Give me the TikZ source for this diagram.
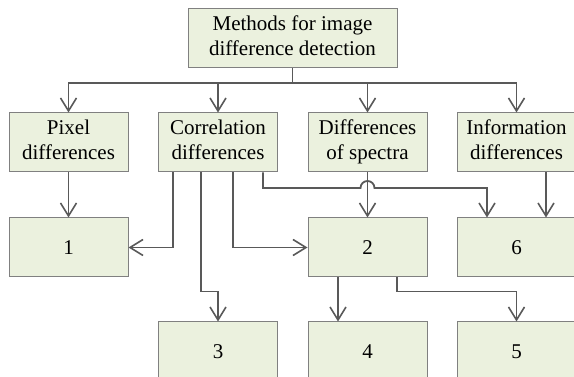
\documentclass[tikz,border=0pt]{standalone}
\usepackage{fontspec}
\setmainfont{Liberation Serif}
\usetikzlibrary{arrows.meta,calc}
\definecolor{boxfill}{HTML}{EBF1DE}
\definecolor{boxline}{HTML}{808080}
\definecolor{conn}{HTML}{595959}
\begin{document}
\begin{tikzpicture}[x=1pt,y=1pt,
  box/.style={draw=boxline, line width=1pt, fill=boxfill, minimum width=119pt, minimum height=59pt, inner sep=0pt, align=center, font=\fontsize{21}{25}\selectfont},
  arr/.style={draw=conn, line width=1.8pt, -{Straight Barb[length=13pt,width=16pt,line width=1.6pt]}},
  ln/.style={draw=conn, line width=1.8pt}]
\useasboundingbox (0,0) rectangle (574,-377);
\clip (0,0) rectangle (574,-377);
\node[box, minimum width=209pt] (top) at (292.5,-38.5) {\strut Methods for image\\difference detection\strut};
\node[box] (pix) at (68.5,-142.5) {\strut Pixel\\differences\strut};
\node[box] (corr) at (218,-142.5) {\strut Correlation\\differences\strut};
\node[box] (spec) at (367.5,-142.5) {\strut Differences\\of spectra\strut};
\node[box] (info) at (516.5,-142.5) {\strut Information\\differences\strut};
\node[box] (n1) at (68.5,-247.5) {1};
\node[box] (n2) at (367.5,-247.5) {2};
\node[box] (n6) at (516.5,-247.5) {6};
\node[box] (n3) at (218,-351.5) {3};
\node[box] (n4) at (367.5,-351.5) {4};
\node[box] (n5) at (516.5,-351.5) {5};
\coordinate (bus) at (292.5,-83);
\draw[ln] (top.south) -- (bus);
\draw[arr] (bus) -| (pix.north);
\draw[arr] (bus) -| (corr.north);
\draw[arr] (bus) -| (spec.north);
\draw[arr] (bus) -| (info.north);
\draw[arr] (pix.south) -- (n1.north);
\draw[arr] ([xshift=-45pt]corr.south) |- (n1.east);
\draw[arr] ([xshift=-17pt]corr.south) |- ([yshift=30pt]n3.north) -- (n3.north);
\draw[arr] ([xshift=15pt]corr.south) |- (n2.west);
\draw[arr] ([xshift=45pt]corr.south) |- (360.5,-188) arc[start angle=180,end angle=0,radius=7pt] -| ([xshift=-29.5pt]n6.north);
\draw[arr] (spec.south) -- (n2.north);
\draw[arr] ([xshift=29.5pt]info.south) -- ([xshift=29.5pt]n6.north);
\draw[arr] ([xshift=-29.5pt]n2.south) -- ([xshift=-29.5pt]n4.north);
\draw[arr] ([xshift=29.5pt]n2.south) |- ([yshift=30pt]n5.north) -- (n5.north);
\end{tikzpicture}
\end{document}
